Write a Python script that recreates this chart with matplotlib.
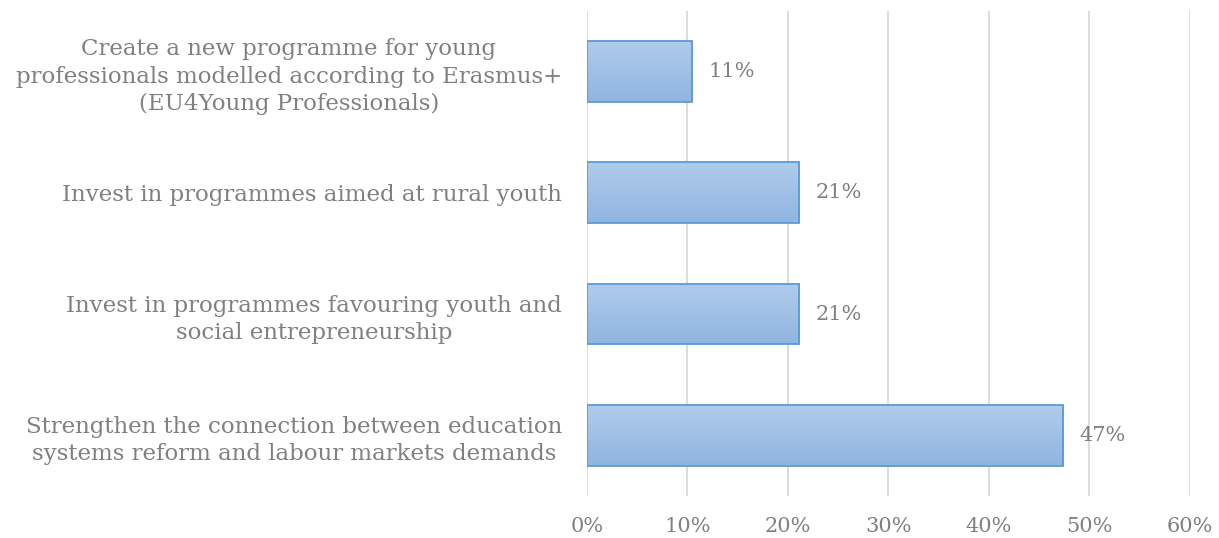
import numpy as np
import matplotlib.pyplot as plt
from matplotlib.colors import LinearSegmentedColormap

# data (top to bottom)
labels = [
    "Create a new programme for young\nprofessionals modelled according to Erasmus+\n(EU4Young Professionals)",
    "Invest in programmes aimed at rural youth",
    "Invest in programmes favouring youth and\nsocial entrepreneurship",
    "Strengthen the connection between education\nsystems reform and labour markets demands",
]
values = [10.5, 21.1, 21.1, 47.4]
value_text = ["11%", "21%", "21%", "47%"]
xticks = [0, 10, 20, 30, 40, 50, 60]

plt.rcParams["font.family"] = ["DejaVu Serif"]
grey = "#808080"

fig = plt.figure(figsize=(12.19, 5.38), dpi=100)
ax = fig.add_axes([0.4815, 0.078, 0.4947, 0.902])

ypos = np.arange(len(values))[::-1]
bars = ax.barh(ypos, values, height=0.5, color="none", edgecolor="#5b9bd5",
               linewidth=1.3, zorder=3)

# gradient fill in each bar
cmap = LinearSegmentedColormap.from_list("g", ["#8fb5e1", "#b0cceb"])
grad = np.linspace(0, 1, 64).reshape(-1, 1)
for b in bars:
    x0, y0 = b.get_x(), b.get_y()
    w, h = b.get_width(), b.get_height()
    im = ax.imshow(grad, cmap=cmap, aspect="auto", origin="lower",
                   extent=[x0, x0 + w, y0, y0 + h], zorder=2)
    im.set_clip_path(b)

for y, v, t in zip(ypos, values, value_text):
    ax.text(v + 1.6, y, t, va="center", ha="left", fontsize=15, color=grey)

ax.set_xlim(0, 60)
ax.set_ylim(-0.5, len(values) - 0.5)
ax.set_xticks(xticks)
ax.set_xticklabels([f"{t}%" for t in xticks], fontsize=15, color=grey)
ax.set_yticks(ypos)
ax.set_yticklabels(labels, fontsize=16.5, color=grey, multialignment="center",
                   linespacing=1.33)
ax.tick_params(axis="both", length=0)
ax.tick_params(axis="y", pad=18)
ax.tick_params(axis="x", pad=15)
ax.grid(axis="x", color="#d9d9d9", linewidth=1.3, zorder=0)
ax.set_axisbelow(True)
for s in ax.spines.values():
    s.set_visible(False)

fig.savefig("out.png", dpi=100)
